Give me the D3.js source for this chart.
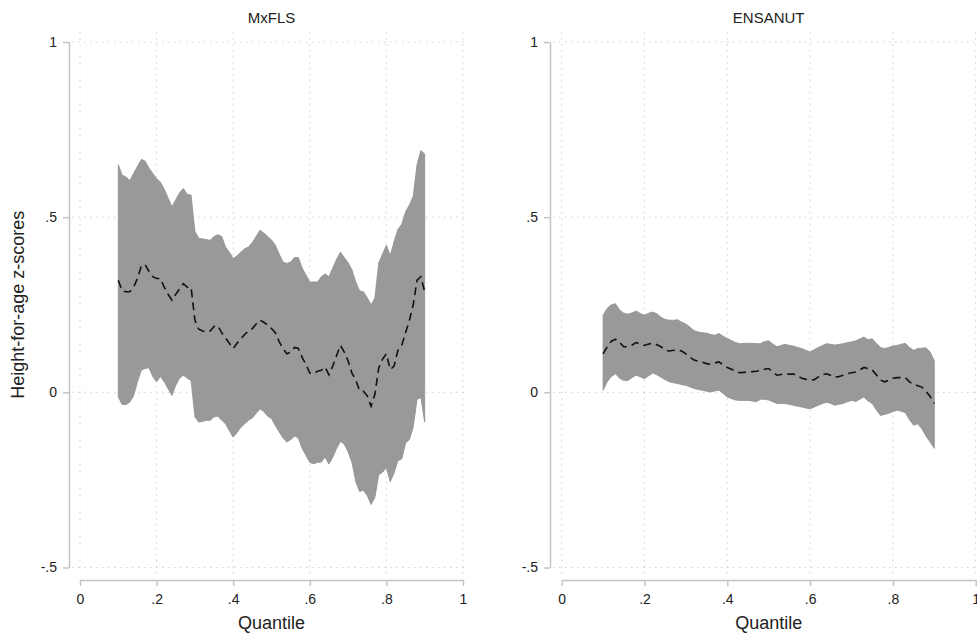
<!DOCTYPE html>
<html>
<head>
<meta charset="utf-8">
<script src="https://cdn.jsdelivr.net/npm/d3@7"></script>
<style>
  body { margin: 0; background: #fff; }
  text { font-family: "Liberation Sans", Arial, sans-serif; fill: #222; }
</style>
</head>
<body>
<div id="chart"></div>
<script>
var width = 977;
var height = 635;

// quantile grid
var quantiles = [0.10,0.11,0.12,0.13,0.14,0.15,0.16,0.17,0.18,0.19,
  0.20,0.21,0.22,0.23,0.24,0.25,0.26,0.27,0.28,0.29,
  0.30,0.31,0.32,0.33,0.34,0.35,0.36,0.37,0.38,0.39,
  0.40,0.41,0.42,0.43,0.44,0.45,0.46,0.47,0.48,0.49,
  0.50,0.51,0.52,0.53,0.54,0.55,0.56,0.57,0.58,0.59,
  0.60,0.61,0.62,0.63,0.64,0.65,0.66,0.67,0.68,0.69,
  0.70,0.71,0.72,0.73,0.74,0.75,0.76,0.77,0.78,0.79,
  0.80,0.81,0.82,0.83,0.84,0.85,0.86,0.87,0.88,0.89,0.90];

// MxFLS
var mxflsUpper = [0.65,0.62,0.615,0.605,0.625,0.645,0.665,0.66,0.64,0.625,
  0.61,0.60,0.58,0.555,0.53,0.55,0.57,0.582,0.565,0.563,
  0.46,0.44,0.438,0.436,0.434,0.445,0.45,0.445,0.415,0.40,
  0.382,0.39,0.40,0.41,0.415,0.428,0.445,0.463,0.455,0.445,
  0.435,0.42,0.395,0.372,0.368,0.372,0.385,0.385,0.355,0.335,
  0.315,0.315,0.315,0.33,0.338,0.33,0.355,0.38,0.40,0.385,
  0.37,0.35,0.315,0.29,0.287,0.27,0.25,0.27,0.37,0.395,
  0.42,0.39,0.43,0.465,0.48,0.515,0.535,0.56,0.65,0.69,0.68];
var mxflsLower = [-0.013,-0.035,-0.035,-0.028,-0.01,0.03,0.063,0.068,0.07,0.045,
  0.03,0.045,0.03,0.01,-0.009,0.02,0.04,0.049,0.04,0.034,
  -0.07,-0.085,-0.083,-0.08,-0.08,-0.07,-0.068,-0.08,-0.09,-0.11,
  -0.128,-0.115,-0.10,-0.09,-0.08,-0.073,-0.06,-0.047,-0.055,-0.068,
  -0.075,-0.095,-0.113,-0.13,-0.142,-0.135,-0.125,-0.13,-0.16,-0.18,
  -0.20,-0.204,-0.20,-0.199,-0.185,-0.205,-0.185,-0.16,-0.14,-0.148,
  -0.17,-0.20,-0.255,-0.283,-0.28,-0.295,-0.32,-0.30,-0.235,-0.228,
  -0.215,-0.255,-0.23,-0.195,-0.19,-0.145,-0.135,-0.10,-0.02,-0.015,-0.085];
var mxflsEst = [0.32,0.29,0.287,0.287,0.30,0.325,0.36,0.365,0.345,0.33,
  0.325,0.325,0.30,0.28,0.263,0.28,0.295,0.31,0.30,0.30,
  0.206,0.18,0.175,0.172,0.175,0.188,0.19,0.17,0.155,0.14,
  0.125,0.14,0.153,0.165,0.175,0.182,0.195,0.206,0.20,0.192,
  0.182,0.17,0.145,0.125,0.11,0.115,0.128,0.125,0.10,0.08,
  0.055,0.053,0.06,0.063,0.072,0.05,0.075,0.105,0.134,0.115,
  0.09,0.055,0.035,0.005,0.003,-0.01,-0.04,-0.005,0.07,0.095,
  0.11,0.065,0.075,0.12,0.134,0.17,0.205,0.25,0.32,0.33,0.287];

// ENSANUT
var ensanutUpper = [0.22,0.24,0.25,0.253,0.235,0.226,0.223,0.227,0.232,0.225,
  0.22,0.226,0.229,0.224,0.214,0.208,0.206,0.206,0.207,0.20,
  0.195,0.186,0.176,0.172,0.17,0.169,0.165,0.163,0.168,0.16,
  0.154,0.148,0.142,0.139,0.14,0.14,0.14,0.139,0.139,0.145,
  0.147,0.138,0.13,0.134,0.137,0.134,0.132,0.128,0.125,0.12,
  0.115,0.122,0.128,0.134,0.139,0.137,0.135,0.137,0.139,0.142,
  0.144,0.147,0.152,0.158,0.15,0.153,0.14,0.128,0.125,0.128,
  0.132,0.134,0.137,0.14,0.128,0.12,0.125,0.126,0.127,0.115,0.09];
var ensanutLower = [0.006,0.03,0.045,0.053,0.04,0.034,0.034,0.042,0.049,0.044,
  0.039,0.047,0.055,0.05,0.043,0.036,0.03,0.027,0.025,0.022,
  0.02,0.015,0.011,0.008,0.006,0.003,0.001,0.004,0.006,-0.003,
  -0.013,-0.018,-0.022,-0.023,-0.023,-0.023,-0.025,-0.027,-0.02,-0.02,
  -0.022,-0.027,-0.032,-0.032,-0.032,-0.035,-0.037,-0.04,-0.042,-0.045,
  -0.047,-0.042,-0.037,-0.032,-0.028,-0.032,-0.037,-0.034,-0.032,-0.027,
  -0.023,-0.026,-0.02,-0.013,-0.025,-0.032,-0.05,-0.066,-0.063,-0.06,
  -0.055,-0.051,-0.054,-0.058,-0.078,-0.094,-0.09,-0.104,-0.125,-0.142,-0.16];
var ensanutEst = [0.11,0.13,0.146,0.152,0.142,0.13,0.13,0.135,0.142,0.138,
  0.134,0.138,0.14,0.136,0.13,0.12,0.118,0.12,0.12,0.118,
  0.11,0.10,0.092,0.089,0.086,0.082,0.08,0.084,0.087,0.078,
  0.071,0.066,0.06,0.056,0.057,0.058,0.059,0.06,0.063,0.066,
  0.068,0.058,0.049,0.051,0.053,0.052,0.052,0.047,0.04,0.037,
  0.035,0.036,0.044,0.05,0.053,0.048,0.043,0.045,0.049,0.053,
  0.056,0.058,0.064,0.071,0.068,0.064,0.05,0.035,0.03,0.035,
  0.04,0.042,0.042,0.042,0.03,0.023,0.019,0.015,0.003,-0.012,-0.032];

var xTicks = [0, 0.2, 0.4, 0.6, 0.8, 1];
var xTickLabels = ["0", ".2", ".4", ".6", ".8", "1"];
var yTicks = [-0.5, 0, 0.5, 1];
var yTickLabels = ["-.5", "0", ".5", "1"];

var panels = [
  {title: "MxFLS", upper: mxflsUpper, lower: mxflsLower, est: mxflsEst,
   axisX: 69, left: 80, right: 463},
  {title: "ENSANUT", upper: ensanutUpper, lower: ensanutLower, est: ensanutEst,
   axisX: 550, left: 561.7, right: 975.7}
];

var plotTop = 42, plotBottom = 567.5, xAxisY = 580;

var svg = d3.select("#chart").append("svg")
    .attr("width", width)
    .attr("height", height);

var y = d3.scaleLinear().domain([-0.5, 1]).range([plotBottom, plotTop]);

panels.forEach(function(p){
  var x = d3.scaleLinear().domain([0, 1]).range([p.left, p.right]);
  var g = svg.append("g");

  // grid
  g.selectAll("line.hgrid")
    .data(yTicks)
    .enter().append("line")
      .attr("class", "hgrid")
      .attr("x1", p.axisX + 3).attr("x2", p.right + 4)
      .attr("y1", function(d){ return y(d); })
      .attr("y2", function(d){ return y(d); })
      .attr("stroke", "#d2d2d2")
      .attr("stroke-dasharray", "1.5,4.5");
  g.selectAll("line.vgrid")
    .data(xTicks)
    .enter().append("line")
      .attr("class", "vgrid")
      .attr("y1", plotTop - 10).attr("y2", xAxisY - 6)
      .attr("x1", function(d){ return x(d); })
      .attr("x2", function(d){ return x(d); })
      .attr("stroke", "#d2d2d2")
      .attr("stroke-dasharray", "1.5,4.5");

  // band
  var area = d3.area()
    .x(function(d, i){ return x(quantiles[i]); })
    .y0(function(d, i){ return y(p.lower[i]); })
    .y1(function(d, i){ return y(p.upper[i]); });
  g.append("path")
    .datum(quantiles)
    .attr("d", area)
    .attr("fill", "#999999")
    .attr("stroke", "#8e8e8e")
    .attr("stroke-width", 0.8);

  // point estimate
  var line = d3.line()
    .x(function(d, i){ return x(quantiles[i]); })
    .y(function(d){ return y(d); });
  g.append("path")
    .datum(p.est)
    .attr("d", line)
    .attr("fill", "none")
    .attr("stroke", "#111")
    .attr("stroke-width", 1.6)
    .attr("stroke-dasharray", "8,5");

  // axes
  var yAxis = d3.axisLeft(y).tickValues(yTicks).tickSize(6).tickSizeOuter(0).tickPadding(6)
    .tickFormat(function(d, i){ return yTickLabels[i]; });
  var gy = g.append("g")
    .attr("transform", "translate(" + p.axisX + ",0)")
    .call(yAxis);

  var xAxis = d3.axisBottom(x).tickValues(xTicks).tickSize(6).tickSizeOuter(0).tickPadding(8)
    .tickFormat(function(d, i){ return xTickLabels[i]; });
  var gx = g.append("g")
    .attr("transform", "translate(0," + xAxisY + ")")
    .call(xAxis);

  [gy, gx].forEach(function(a){
    a.select(".domain").attr("stroke", "#c4c4c4").attr("stroke-width", 1.5);
    a.selectAll(".tick line").attr("stroke", "#c4c4c4").attr("stroke-width", 1.5);
    a.selectAll(".tick text").attr("font-size", 14).attr("fill", "#222")
      .attr("font-family", "Liberation Sans, Arial, sans-serif");
  });

  // titles
  g.append("text")
    .attr("x", (p.left + p.right) / 2)
    .attr("y", 23)
    .attr("text-anchor", "middle")
    .attr("font-size", 15)
    .text(p.title);

  g.append("text")
    .attr("x", (p.left + p.right) / 2)
    .attr("y", 629)
    .attr("text-anchor", "middle")
    .attr("font-size", 18)
    .text("Quantile");
});

svg.append("text")
  .attr("transform", "translate(24," + ((plotTop + plotBottom) / 2) + ") rotate(-90)")
  .attr("text-anchor", "middle")
  .attr("font-size", 18)
  .text("Height-for-age z-scores");
</script>
</body>
</html>
